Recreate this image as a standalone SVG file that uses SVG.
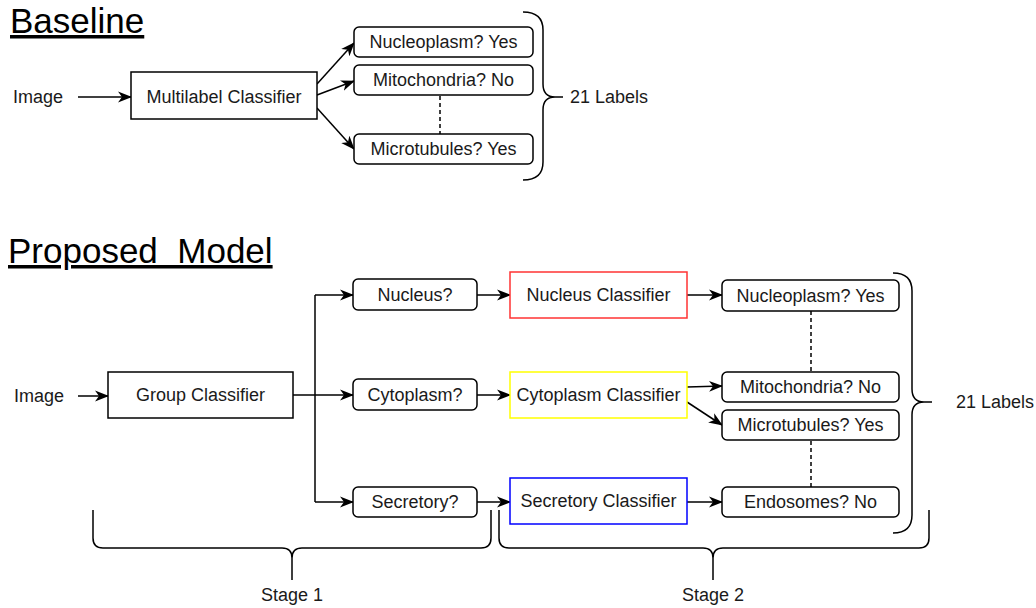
<svg xmlns="http://www.w3.org/2000/svg" width="1036" height="608" viewBox="0 0 1036 608">
<defs>
<style>
text{font-family:"Liberation Sans",Arial,sans-serif;font-size:18px;fill:#1a1a1a}
.t{text-anchor:middle}
.title{font-size:35px;text-decoration:underline;fill:#000}
.box{fill:#fff;stroke:#000;stroke-width:1.5}
.rb{fill:#fff;stroke:#000;stroke-width:1.5}
.ln{fill:none;stroke:#000;stroke-width:1.5}
.ar{fill:none;stroke:#000;stroke-width:1.5;marker-end:url(#ah)}
.dash{fill:none;stroke:#000;stroke-width:1.5;stroke-dasharray:4 3}
.br{fill:none;stroke:#000;stroke-width:1.5}
</style>
<marker id="ah" markerUnits="userSpaceOnUse" markerWidth="15" markerHeight="12" refX="13" refY="5.5" orient="auto" viewBox="0 0 15 11">
<path d="M0,0 L14,5.5 L0,11 L4,5.5 Z" fill="#000"/>
</marker>
</defs>
<rect width="1036" height="608" fill="#fff"/>

<g id="titles">
<text class="title" x="10" y="33">Baseline</text>
<text class="title" x="8" y="263" xml:space="preserve">Proposed  Model</text>
</g>

<g id="connectors">
<line class="ar" x1="78" y1="97" x2="131" y2="97"/>
<line class="ar" x1="317" y1="84" x2="354" y2="43"/>
<line class="ar" x1="317" y1="95" x2="354" y2="81"/>
<line class="ar" x1="317" y1="108" x2="354" y2="149"/>
<line class="dash" x1="440" y1="96" x2="440" y2="134"/>

<line class="ar" x1="78" y1="396" x2="108" y2="396"/>
<line class="ar" x1="293" y1="395" x2="353" y2="395"/>
<polyline class="ln" points="315,295 315,502"/>
<line class="ar" x1="315" y1="295" x2="353" y2="295"/>
<line class="ar" x1="315" y1="502" x2="353" y2="502"/>
<line class="ar" x1="477" y1="295" x2="510" y2="295"/>
<line class="ar" x1="477" y1="395" x2="510" y2="395"/>
<line class="ar" x1="477" y1="502" x2="510" y2="502"/>
<line class="ar" x1="687" y1="295" x2="722" y2="295"/>
<line class="ar" x1="687" y1="387" x2="722" y2="386"/>
<line class="ar" x1="687" y1="402" x2="722" y2="425"/>
<line class="ar" x1="687" y1="502" x2="722" y2="502"/>
<line class="dash" x1="811" y1="311" x2="811" y2="372"/>
<line class="dash" x1="811" y1="441" x2="811" y2="487"/>
</g>

<g id="braces">
<path class="br" d="M523,12 Q543,12 543,30 V84 Q543,97 555,97 H563 M555,97 Q543,97 543,110 V162 Q543,180 523,180"/>
<path class="br" d="M893,273 Q912,273 912,291 V389 Q912,402 924,402 H932 M924,402 Q912,402 912,415 V515 Q912,533 893,533"/>
<path class="br" d="M93,510 V538 Q93,548 103,548 H282 Q292,548 292,558 V580 M292,558 Q292,548 302,548 H481 Q491,548 491,538 V510"/>
<path class="br" d="M499,510 V538 Q499,548 509,548 H703 Q713,548 713,558 V580 M713,558 Q713,548 723,548 H919 Q929,548 929,538 V510"/>
</g>

<g id="b-image"><text x="13" y="103">Image</text></g>
<g id="b-multilabel"><rect class="box" x="131" y="72" width="186" height="47"/><text class="t" x="224" y="103">Multilabel Classifier</text></g>
<g id="b-nucleoplasm"><rect class="rb" x="354" y="27" width="179" height="30" rx="5"/><text class="t" x="443.5" y="48">Nucleoplasm? Yes</text></g>
<g id="b-mito"><rect class="rb" x="354" y="65" width="179" height="30" rx="5"/><text class="t" x="443.5" y="86">Mitochondria? No</text></g>
<g id="b-micro"><rect class="rb" x="354" y="134" width="179" height="30" rx="5"/><text class="t" x="443.5" y="155">Microtubules? Yes</text></g>
<g id="b-labels"><text x="570" y="103">21 Labels</text></g>

<g id="p-image"><text x="14" y="402">Image</text></g>
<g id="p-group"><rect class="box" x="108" y="372" width="185" height="46"/><text class="t" x="200.5" y="401">Group Classifier</text></g>
<g id="p-nucleus-q"><rect class="rb" x="353" y="279" width="124" height="31" rx="5"/><text class="t" x="415" y="301">Nucleus?</text></g>
<g id="p-cyto-q"><rect class="rb" x="353" y="379" width="124" height="31" rx="5"/><text class="t" x="415" y="401">Cytoplasm?</text></g>
<g id="p-secr-q"><rect class="rb" x="353" y="487" width="124" height="30" rx="5"/><text class="t" x="415" y="508">Secretory?</text></g>
<g id="p-nucleus-c"><rect class="box" x="510" y="272" width="177" height="46" style="stroke:#ff3333"/><text class="t" x="598.5" y="301">Nucleus Classifier</text></g>
<g id="p-cyto-c"><rect class="box" x="510" y="372" width="177" height="46" style="stroke:#ffff00"/><text class="t" x="598.5" y="401">Cytoplasm Classifier</text></g>
<g id="p-secr-c"><rect class="box" x="510" y="478" width="177" height="46" style="stroke:#0000ff"/><text class="t" x="598.5" y="507">Secretory Classifier</text></g>
<g id="p-nucleoplasm"><rect class="rb" x="722" y="280" width="177" height="31" rx="5"/><text class="t" x="810.5" y="302">Nucleoplasm? Yes</text></g>
<g id="p-mito"><rect class="rb" x="722" y="372" width="177" height="30" rx="5"/><text class="t" x="810.5" y="393">Mitochondria? No</text></g>
<g id="p-micro"><rect class="rb" x="722" y="410" width="177" height="30" rx="5"/><text class="t" x="810.5" y="431">Microtubules? Yes</text></g>
<g id="p-endo"><rect class="rb" x="722" y="487" width="177" height="30" rx="5"/><text class="t" x="810.5" y="508">Endosomes? No</text></g>
<g id="p-labels"><text x="956" y="408">21 Labels</text></g>
<g id="stage1"><text class="t" x="292" y="601">Stage 1</text></g>
<g id="stage2"><text class="t" x="713" y="601">Stage 2</text></g>
</svg>
